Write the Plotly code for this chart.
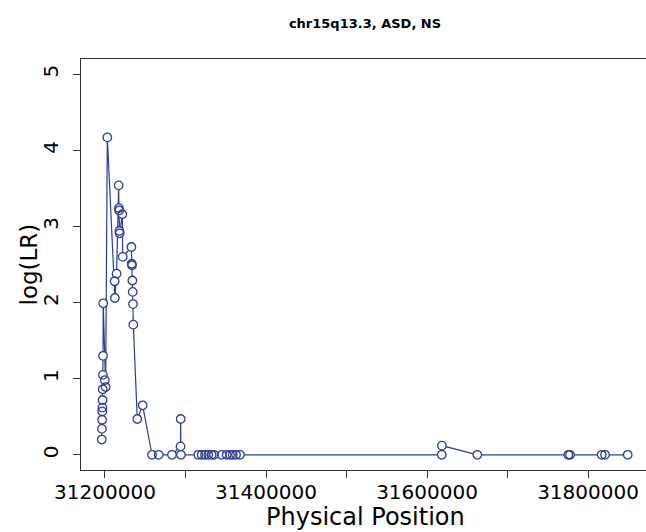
import plotly.graph_objects as go

# Physical positions (bp) and log(LR) values
positions = [
    31196000, 31196200, 31196400, 31196600, 31196800, 31197000, 31197200,
    31197400, 31197600, 31197800, 31199800, 31200800, 31202900,
    31212000, 31212300, 31214400, 31217000, 31217300, 31217600, 31217900,
    31218200, 31221500, 31222000,
    31232800, 31233200, 31233600, 31234000, 31234400, 31234800, 31235200,
    31240100, 31246800,
    31258400, 31266700, 31283200, 31293800, 31294000, 31294300,
    31315900, 31320100, 31324200, 31328300, 31332500, 31335400,
    31345000, 31351200, 31355300, 31358600, 31362700, 31367700,
    31618300, 31618500, 31662500, 31775500, 31777600, 31817000, 31821100,
    31849300,
]
log_lr = [
    0.20, 0.34, 0.46, 0.57, 0.62, 0.72, 0.86,
    1.05, 1.30, 1.99, 0.98, 0.89, 4.17,
    2.28, 2.06, 2.38, 3.54, 3.24, 3.21, 2.94,
    2.91, 3.16, 2.60,
    2.73, 2.51, 2.49, 2.29, 2.14, 1.98, 1.71,
    0.47, 0.65,
    0.0, 0.0, 0.0, 0.11, 0.47, 0.0,
    0.0, 0.0, 0.0, 0.0, 0.0, 0.0,
    0.0, 0.0, 0.0, 0.0, 0.0, 0.0,
    0.0, 0.12, 0.0, 0.0, 0.0, 0.0, 0.0,
    0.0,
]

x_tick_vals = [31200000, 31300000, 31400000, 31500000, 31600000, 31700000, 31800000]
x_tick_text = ["31200000", "", "31400000", "", "31600000", "", "31800000"]
y_tick_vals = [0, 1, 2, 3, 4, 5]
y_tick_text = ["0", "1", "2", "3", "4", "5"]

title_text = "chr15q13.3, ASD, NS"
x_title = "Physical Position"
y_title = "log(LR)"

NAVY = "#2C3E94"
FONT = "DejaVu Sans"
W, H = 646, 532
L, R, T, B = 81, 0, 59, 62

fig = go.Figure()
fig.add_trace(go.Scatter(
    x=positions, y=log_lr, mode="lines",
    line=dict(color=NAVY, width=1.2), hoverinfo="skip", showlegend=False,
))
fig.add_trace(go.Scatter(
    x=positions, y=log_lr, mode="markers",
    marker=dict(symbol="circle", size=8.5, color="white", line=dict(width=0)),
    hoverinfo="skip", showlegend=False,
))
fig.add_trace(go.Scatter(
    x=positions, y=log_lr, mode="markers",
    marker=dict(symbol="circle-open", size=8.5, color=NAVY, line=dict(width=1.3, color=NAVY)),
    showlegend=False,
))

fig.update_layout(
    width=W, height=H,
    margin=dict(l=L, r=R, t=T, b=B, autoexpand=False),
    paper_bgcolor="white", plot_bgcolor="white",
    font=dict(family=FONT, color="black"),
    title=dict(
        text=title_text, x=(L + (W + 3 - L) / 2) / W, xanchor="center", xref="container",
        y=1 - 23 / H, yanchor="middle", yref="container",
        font=dict(family=FONT, size=13, weight="bold", color="black"),
    ),
    xaxis=dict(
        range=[31170200, 31872000], automargin=False,
        tickmode="array", tickvals=x_tick_vals, ticktext=x_tick_text,
        ticks="outside", ticklen=7, tickwidth=1, tickcolor="#333",
        showline=True, linecolor="#333", linewidth=1, mirror=True,
        showgrid=False, zeroline=False, ticklabelstandoff=-3,
        tickfont=dict(family=FONT, size=20, color="black"),
    ),
    yaxis=dict(
        range=[-0.2, 5.2], automargin=False,
        tickmode="array", tickvals=y_tick_vals, ticktext=y_tick_text,
        ticks="outside", ticklen=7, tickwidth=1, tickcolor="#333",
        showline=True, linecolor="#333", linewidth=1, mirror=False,
        showgrid=False, zeroline=False, tickangle=-90, ticklabelstandoff=7,
        tickfont=dict(family=FONT, size=20, color="black"),
    ),
    annotations=[
        dict(text=x_title, xref="paper", yref="paper", x=(L + (W + 3 - L) / 2 - L) / (W - L),
             y=-(517 - (H - B)) / (H - T - B), xanchor="center", yanchor="middle",
             showarrow=False, font=dict(family=FONT, size=24, color="black")),
        dict(text=y_title, xref="paper", yref="paper", x=-(L - 28) / (W - L), y=0.5,
             textangle=-90, xanchor="center", yanchor="middle",
             showarrow=False, font=dict(family=FONT, size=23, color="black")),
    ],
)

fig.write_html(
    "out.html",
    config={"displayModeBar": False},
    post_script="document.body.style.margin='0';document.body.style.overflow='hidden';",
)
